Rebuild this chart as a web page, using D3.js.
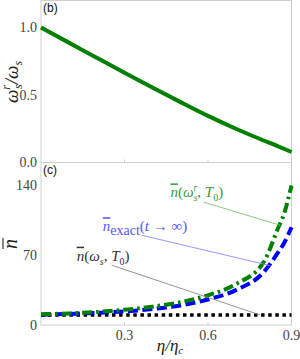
<!DOCTYPE html>
<head>
<meta charset="utf-8">
<script src="https://d3js.org/d3.v7.min.js"></script>
<style>
  body { margin: 0; background: #fff; }
</style>
</head>
<body>
<div id="my_dataviz"></div>

<script>
    // eta / eta_c sample points
    var eta = [0, 0.1, 0.2, 0.3, 0.4, 0.5, 0.6, 0.7, 0.8, 0.85, 0.875, 0.9];
    // panel (b): omega_s^r / omega_s
    var ratio = [1.0, 0.888, 0.776, 0.665, 0.556, 0.449, 0.345, 0.250, 0.163, 0.122, 0.100, 0.078];
    // panel (c)
    var nRenorm = [10.8, 11.6, 13.0, 15.3, 18.4, 22.8, 29.8, 41.0, 63.0, 96.0, 113.0, 140.0];
    var nExact  = [10.4, 11.1, 12.2, 13.6, 16.0, 19.6, 25.6, 35.0, 53.0, 72.0, 83.0, 98.0];
    var nBare   = [10, 10, 10, 10, 10, 10, 10, 10, 10, 10, 10, 10];

    var xTicks = [0.3, 0.6, 0.9];
    var yTicksB = [0.0, 0.5, 1.0];
    var yTicksC = [0, 70, 140];

    var width = 300, height = 359;
    var left = 41, right = 291.5;
    var topB = 0.5, botB = 162.5, botC = 325;
    var serif = "'Liberation Serif', 'DejaVu Serif', serif";
    var sans = "'Liberation Sans', Arial, sans-serif";

    var svg = d3.select("#my_dataviz")
      .append("svg")
        .attr("width", width)
        .attr("height", height);

    var x = d3.scaleLinear().domain([0, 0.9]).range([left, right]);
    var yB = d3.scaleLinear().domain([0, 1.2]).range([botB, topB]);
    var yC = d3.scaleLinear().domain([0, 163]).range([botC, botB]);

    var frame = "#d0d0d0";
    var tickCol = "#444";

    // frames
    svg.append("rect")
      .attr("x", left).attr("y", topB)
      .attr("width", right - left).attr("height", botB - topB)
      .attr("fill", "none").attr("stroke", frame);
    svg.append("rect")
      .attr("x", left).attr("y", botB)
      .attr("width", right - left).attr("height", botC - botB)
      .attr("fill", "none").attr("stroke", frame);

    // small inner ticks on x
    xTicks.forEach(function(t){
        [botB, botC].forEach(function(yy){
            svg.append("line")
              .attr("x1", x(t)).attr("x2", x(t))
              .attr("y1", yy).attr("y2", yy - 3)
              .attr("stroke", frame);
        });
    });

    // y tick labels
    svg.selectAll(".tyb")
      .data(yTicksB).enter().append("text")
        .attr("x", left - 4).attr("y", function(d){ return yB(d); })
        .attr("dy", "0.35em")
        .attr("text-anchor", "end")
        .attr("font-family", serif)
        .attr("font-size", 14)
        .attr("fill", tickCol)
        .text(function(d){ return d.toFixed(1); });
    svg.selectAll(".tyc")
      .data(yTicksC).enter().append("text")
        .attr("x", left - 4).attr("y", function(d){ return yC(d); })
        .attr("dy", "0.35em")
        .attr("text-anchor", "end")
        .attr("font-family", serif)
        .attr("font-size", 14)
        .attr("fill", tickCol)
        .text(function(d){ return d; });
    svg.selectAll(".tx")
      .data(xTicks).enter().append("text")
        .attr("x", function(d){ return x(d); }).attr("y", botC + 15)
        .attr("text-anchor", "middle")
        .attr("font-family", serif)
        .attr("font-size", 14)
        .attr("fill", tickCol)
        .text(function(d){ return d.toFixed(1); });

    // panel labels
    svg.append("text").attr("x", 43).attr("y", 12)
      .attr("font-family", sans)
      .attr("font-size", 12).attr("fill", "#111").text("(b)");
    svg.append("text").attr("x", 43).attr("y", 174)
      .attr("font-family", sans)
      .attr("font-size", 12).attr("fill", "#111").text("(c)");

    // axis titles
    var tB = svg.append("text")
      .attr("transform", "translate(18,82) rotate(-90)")
      .attr("text-anchor", "middle")
      .attr("font-family", serif)
      .attr("font-size", 19).attr("font-style", "italic").attr("fill", "#222");
    tB.append("tspan").text("ω");
    tB.append("tspan").attr("font-size", 12).attr("dy", -8).text("r");
    tB.append("tspan").attr("font-size", 12).attr("dx", -4).attr("dy", 12).text("s");
    tB.append("tspan").attr("dy", -4).text("/ω");
    tB.append("tspan").attr("font-size", 12).attr("dy", 4).text("s");

    var gC = svg.append("g").attr("transform", "translate(17,244) rotate(-90)");
    gC.append("text")
      .attr("text-anchor", "middle")
      .attr("font-family", serif)
      .attr("font-size", 20).attr("font-style", "italic").attr("fill", "#222")
      .text("n");
    gC.append("line")
      .attr("x1", -5).attr("x2", 6).attr("y1", -14).attr("y2", -14)
      .attr("stroke", "#222").attr("stroke-width", 1.1);

    var tX = svg.append("text")
      .attr("x", 170).attr("y", 351)
      .attr("text-anchor", "middle")
      .attr("font-family", serif)
      .attr("font-size", 17).attr("font-style", "italic").attr("fill", "#222");
    tX.append("tspan").text("η/η");
    tX.append("tspan").attr("font-size", 11).attr("dy", 3).text("c");

    // panel (b) curve
    var dataB = eta.map(function(e, i){ return {e: e, v: ratio[i]}; });
    svg.append("path")
      .datum(dataB)
      .attr("fill", "none")
      .attr("stroke", "#008000")
      .attr("stroke-width", 4)
      .attr("d", d3.line()
        .curve(d3.curveMonotoneX)
        .x(function(d){ return x(d.e); })
        .y(function(d){ return yB(d.v); }));

    // panel (c) curves
    var series = [
      {vals: nBare, color: "#000", dash: "3.5,3.6", w: 3.6},
      {vals: nExact, color: "#0000ff", dash: "10,4.5", w: 4},
      {vals: nRenorm, color: "#008000", dash: "10,4,2.6,4", w: 4}
    ];
    series.forEach(function(s){
        svg.append("path")
          .datum(eta.map(function(e, i){ return {e: e, v: s.vals[i]}; }))
          .attr("fill", "none")
          .attr("stroke", s.color)
          .attr("stroke-width", s.w)
          .attr("stroke-dasharray", s.dash)
          .attr("d", d3.line()
            .curve(d3.curveMonotoneX)
            .x(function(d){ return x(d.e); })
            .y(function(d){ return yC(d.v); }));
    });

    // annotations (data coordinates)
    var notes = [
      {name: "renorm", text: [0.465, 128], from: [0.584, 123.3], to: [0.86, 100], color: "#3a9a3a", line: "#7cc07c"},
      {name: "exact", text: [0.222, 94], from: [0.362, 90], to: [0.824, 59.5], color: "#5555ff", line: "#8c8cff"},
      {name: "bare", text: [0.128, 64.5], from: [0.254, 60], to: [0.788, 10], color: "#333", line: "#888"}
    ];
    notes.forEach(function(n){
        svg.append("line")
          .attr("x1", x(n.from[0])).attr("y1", yC(n.from[1]))
          .attr("x2", x(n.to[0])).attr("y2", yC(n.to[1]))
          .attr("stroke", n.line).attr("stroke-width", 0.9);
        var t = svg.append("text")
          .attr("x", x(n.text[0])).attr("y", yC(n.text[1]))
          .attr("font-family", serif)
          .attr("font-size", 15).attr("fill", n.color);
        t.append("tspan").attr("font-style", "italic").style("text-decoration", "overline").text("n");
        if (n.name == "renorm") {
            t.append("tspan").text("(");
            t.append("tspan").attr("font-style", "italic").text("ω");
            t.append("tspan").attr("font-style", "italic").attr("font-size", 10).attr("dy", -6).text("r");
            t.append("tspan").attr("font-style", "italic").attr("font-size", 10).attr("dx", -4).attr("dy", 10).text("s");
            t.append("tspan").attr("dy", -4).text(", ");
            t.append("tspan").attr("font-style", "italic").text("T");
            t.append("tspan").attr("font-size", 10).attr("dy", 4).text("0");
            t.append("tspan").attr("dy", -4).text(")");
        } else if (n.name == "exact") {
            t.append("tspan").attr("font-size", 14).attr("dy", 4).text("exact");
            t.append("tspan").attr("dy", -4).text("(");
            t.append("tspan").attr("font-style", "italic").text("t");
            t.append("tspan").text(" → ∞)");
        } else {
            t.append("tspan").text("(");
            t.append("tspan").attr("font-style", "italic").text("ω");
            t.append("tspan").attr("font-style", "italic").attr("font-size", 10).attr("dy", 4).text("s");
            t.append("tspan").attr("dy", -4).text(", ");
            t.append("tspan").attr("font-style", "italic").text("T");
            t.append("tspan").attr("font-size", 10).attr("dy", 4).text("0");
            t.append("tspan").attr("dy", -4).text(")");
        }
    });
</script>
</body>
